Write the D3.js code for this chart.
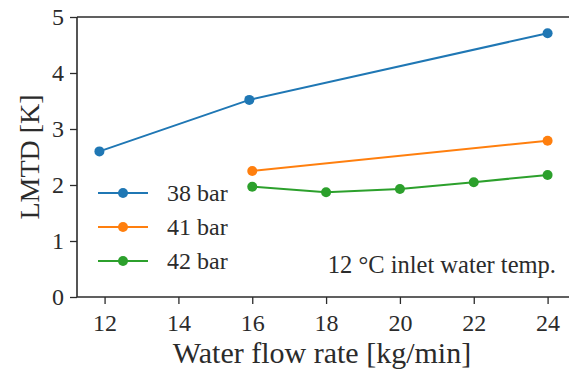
<!DOCTYPE html>
<html>
<head>
<meta charset="utf-8">
<script src="https://cdn.jsdelivr.net/npm/d3@7"></script>
<style>
  html, body { margin: 0; padding: 0; background: #fff; }
  text { font-family: "Liberation Serif", serif !important; }
</style>
</head>
<body>
<svg id="chart" width="569" height="376"></svg>
<script>
// LMTD against water flow rate, one series per pressure level
const seriesNames = ["38 bar", "41 bar", "42 bar"];
const seriesColors = ["#1f77b4", "#ff7f0e", "#2ca02c"];
const flow38 = [11.86, 15.92, 24];
const lmtd38 = [2.60, 3.52, 4.71];
const flow41 = [16, 24];
const lmtd41 = [2.25, 2.79];
const flow42 = [16, 18, 20, 22, 24];
const lmtd42 = [1.97, 1.87, 1.93, 2.05, 2.18];
const xTicks = [12, 14, 16, 18, 20, 22, 24];
const yTicks = [0, 1, 2, 3, 4, 5];
const xLabel = "Water flow rate [kg/min]";
const yLabel = "LMTD [K]";
const note = "12 \u00B0C inlet water temp.";

const series = [
  { name: seriesNames[0], color: seriesColors[0], pts: flow38.map((x, i) => [x, lmtd38[i]]) },
  { name: seriesNames[1], color: seriesColors[1], pts: flow41.map((x, i) => [x, lmtd41[i]]) },
  { name: seriesNames[2], color: seriesColors[2], pts: flow42.map((x, i) => [x, lmtd42[i]]) }
];

const ink = "#2b2b2b";
const svg = d3.select("#chart");
const plotL = 77, plotT = 17, plotR = 570, plotB = 297;

// x domain padded by 5% of the data span, y fixed 0..5
const allX = [].concat(flow38, flow41, flow42);
const xmin = d3.min(allX), xmax = d3.max(allX), pad = (xmax - xmin) * 0.05;
const x = d3.scaleLinear().domain([xmin - pad, xmax + pad]).range([plotL, plotR]);
const y = d3.scaleLinear().domain([0, 5]).range([plotB, plotT]);

function label(sel, size) {
  return sel.attr("fill", ink).style("font-size", size + "px");
}

// axes
const xAxis = svg.append("g").attr("transform", `translate(0,${plotB})`)
  .call(d3.axisBottom(x).tickValues(xTicks).tickSize(7).tickPadding(5).tickFormat(d3.format("d")));
const yAxis = svg.append("g").attr("transform", `translate(${plotL},0)`)
  .call(d3.axisLeft(y).tickValues(yTicks).tickSize(7).tickPadding(6).tickFormat(d3.format("d")));
[xAxis, yAxis].forEach(g => {
  g.attr("font-family", null);
  g.select(".domain").remove();
  g.selectAll(".tick line").attr("stroke", ink).attr("stroke-width", 1.3);
  label(g.selectAll(".tick text"), 24);
});
xAxis.selectAll(".tick text").attr("dy", "0.92em");
yAxis.selectAll(".tick text").attr("dy", "0.33em");

// frame: left, bottom and top edges
svg.append("line").attr("x1", plotL).attr("x2", plotL).attr("y1", plotT).attr("y2", plotB)
  .attr("stroke", ink).attr("stroke-width", 1.6);
svg.append("line").attr("x1", plotL).attr("x2", plotR).attr("y1", plotB).attr("y2", plotB)
  .attr("stroke", ink).attr("stroke-width", 1.6);
svg.append("line").attr("x1", plotL).attr("x2", plotR).attr("y1", plotT).attr("y2", plotT)
  .attr("stroke", ink).attr("stroke-width", 1.6);

// lines and markers
const line = d3.line().x(d => x(d[0])).y(d => y(d[1]));
series.forEach(s => {
  svg.append("path").datum(s.pts).attr("d", line)
    .attr("fill", "none").attr("stroke", s.color).attr("stroke-width", 2);
  svg.append("g").selectAll("circle").data(s.pts).join("circle")
    .attr("cx", d => x(d[0])).attr("cy", d => y(d[1])).attr("r", 5)
    .attr("fill", s.color);
});

// legend
const legend = svg.append("g");
series.forEach((s, i) => {
  const ly = 193 + i * 34;
  legend.append("line").attr("x1", 98).attr("x2", 148).attr("y1", ly).attr("y2", ly)
    .attr("stroke", s.color).attr("stroke-width", 2);
  legend.append("circle").attr("cx", 123).attr("cy", ly).attr("r", 5).attr("fill", s.color);
  label(legend.append("text"), 24).attr("x", 167).attr("y", ly).attr("dy", "0.33em").text(s.name);
});

// annotation
label(svg.append("text"), 24.5).attr("x", 556).attr("y", 273).attr("text-anchor", "end").text(note);

// axis titles
label(svg.append("text"), 30).attr("x", 322).attr("y", 363).attr("text-anchor", "middle").text(xLabel);
label(svg.append("text"), 28).attr("transform", `translate(39,157) rotate(-90)`)
  .attr("text-anchor", "middle").text(yLabel);
</script>
</body>
</html>
